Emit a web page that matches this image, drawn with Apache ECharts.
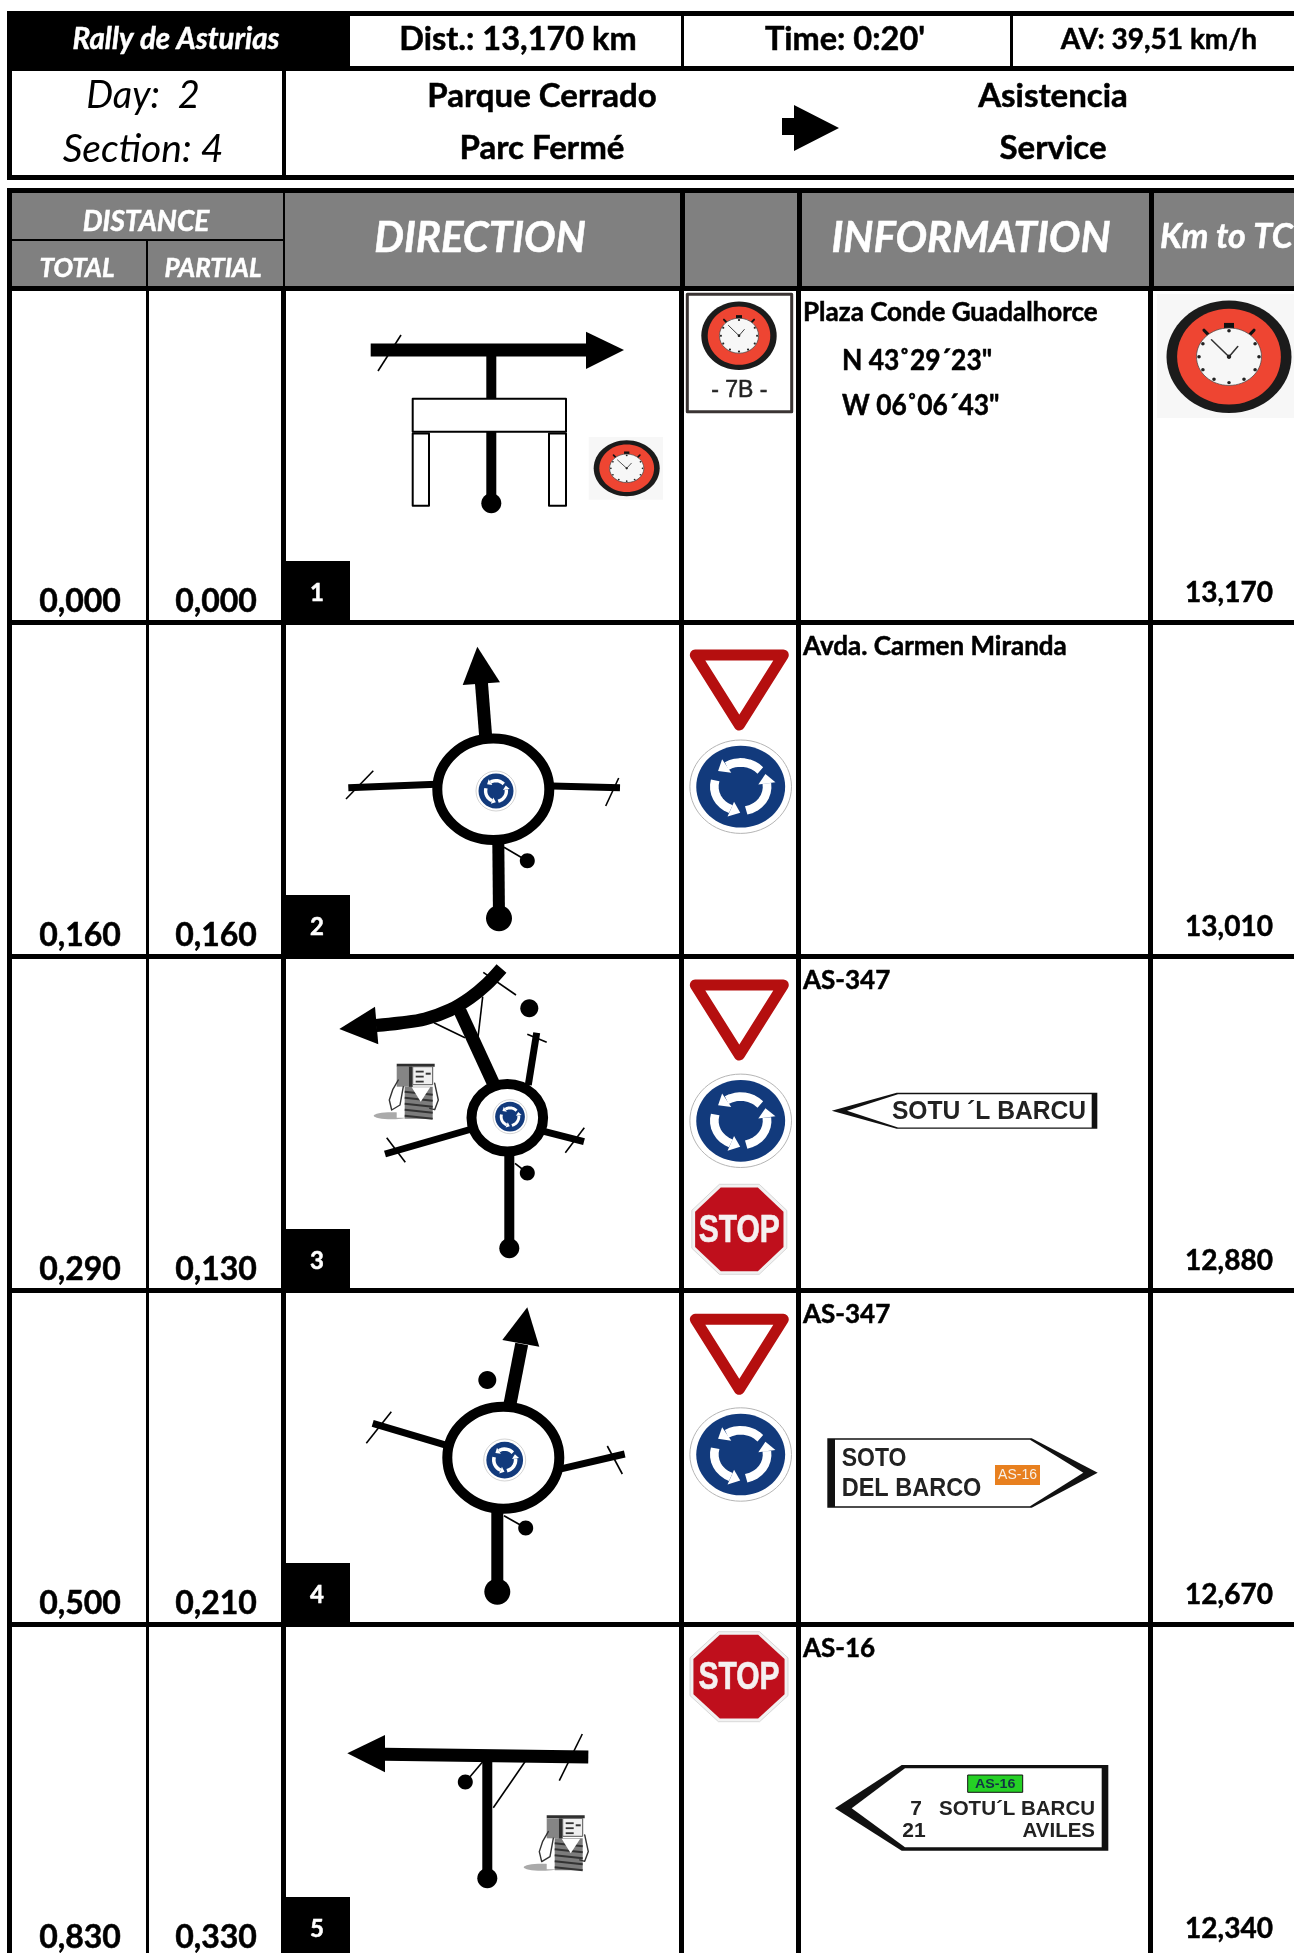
<!DOCTYPE html>
<html>
<head>
<meta charset="utf-8">
<script src="https://cdn.jsdelivr.net/npm/echarts@6/dist/echarts.min.js"></script>
<style>
  html, body { margin: 0; padding: 0; background: #fff; }
  #main { width: 1294px; height: 1953px; }
</style>
</head>
<body>
<div id="main"></div>
<script>
// roadbook rows
const stepNumbers = ['1', '2', '3', '4', '5'];
const totalKm = ['0,000', '0,160', '0,290', '0,500', '0,830'];
const partialKm = ['0,000', '0,160', '0,130', '0,210', '0,330'];
const kmToTc = ['13,170', '13,010', '12,880', '12,670', '12,340'];
const infoTitles = ['Plaza Conde Guadalhorce', 'Avda. Carmen Miranda', 'AS-347', 'AS-347', 'AS-16'];
const coords = ['N 43˚29´23"', 'W 06˚06´43"'];

// header texts
const rallyName = 'Rally de Asturias';
const stageInfo = ['Dist.: 13,170 km', "Time: 0:20'", 'AV: 39,51 km/h'];
const dayInfo = ['Day:  2', 'Section: 4'];
const fromTo = ['Parque Cerrado', 'Parc Fermé', 'Asistencia', 'Service'];

// table geometry, page pixels used as axis units
const rowTops = [291, 625, 959, 1293, 1627];
const rowBottoms = [620, 954, 1288, 1622, 1953];
const columns = [[12, 146], [149, 281], [286, 679], [684, 796], [801, 1148], [1153, 1294]];

const FONT = 'Lato, "Noto Sans", sans-serif';
const SIGN = '"Liberation Sans", Arial, sans-serif';
const marks = [];

function rect(x0, y0, x1, y1, fill) {
  marks.push({ kind: 'poly', pts: [[x0, y0], [x1, y0], [x1, y1], [x0, y1]], fill });
}
function box(x0, y0, x1, y1, stroke, width, fill) {
  marks.push({ kind: 'poly', pts: [[x0, y0], [x1, y0], [x1, y1], [x0, y1]], fill: fill || '#fff', stroke, width });
}
function poly(pts, fill, stroke, width) {
  marks.push({ kind: 'poly', pts, fill, stroke, width });
}
function road(pts, width, cap) {
  marks.push({ kind: 'line', pts, width, color: '#000', cap: cap || 'butt' });
}
function thin(x0, y0, x1, y1) {
  marks.push({ kind: 'line', pts: [[x0, y0], [x1, y1]], width: 1.6, color: '#000', cap: 'butt' });
}
function line(pts, width, color) {
  marks.push({ kind: 'line', pts, width, color, cap: 'round' });
}
function oval(cx, cy, rx, ry, fill, stroke, width) {
  marks.push({ kind: 'oval', c: [cx, cy], rx, ry, fill, stroke, width });
}
function dot(cx, cy, r) {
  oval(cx, cy, r, r, '#000');
}
function text(x, y, str, size, opt) {
  marks.push(Object.assign({ kind: 'text', at: [x, y], str, size, font: FONT, weight: 'bold', italic: false, color: '#000', align: 'center', heavy: 0.5 }, opt));
}

// stopwatch pictogram
function clock(cx, cy, rx, ry) {
  oval(cx, cy, rx, ry, '#1b1b1b');
  oval(cx, cy, rx * 0.83, ry * 0.85, '#ee4532');
  rect(cx - rx * 0.08, cy - ry * 0.6, cx + rx * 0.08, cy - ry * 0.5, '#111');
  line([[cx - rx * 0.4, cy - ry * 0.47], [cx - rx * 0.34, cy - ry * 0.4]], rx * 0.05, '#111');
  line([[cx + rx * 0.4, cy - ry * 0.47], [cx + rx * 0.34, cy - ry * 0.4]], rx * 0.05, '#111');
  oval(cx, cy, rx * 0.52, ry * 0.51, '#f7f7f7', '#444', 0.7);
  [[0, -1], [0.87, -0.5], [1, 0], [0.87, 0.5], [0.5, 0.87], [0, 1], [-0.5, 0.87], [-0.87, 0.5], [-1, 0], [-0.87, -0.5]].forEach(d => {
    oval(cx + d[0] * rx * 0.48, cy + d[1] * ry * 0.46, rx * 0.028, ry * 0.03, '#222');
  });
  line([[cx - rx * 0.28, cy - ry * 0.3], [cx, cy]], rx * 0.025, '#333');
  line([[cx + rx * 0.14, cy - ry * 0.18], [cx, cy]], rx * 0.025, '#333');
  oval(cx, cy, rx * 0.035, ry * 0.04, '#222');
}

// blue roundabout sign
function roundabout(cx, cy, rx, ry) {
  oval(cx, cy, rx, ry, '#fff', '#b5b5b5', rx > 30 ? 1 : 0.6);
  oval(cx, cy, rx * 0.875, ry * 0.875, '#123a7c');
  const arcs = [[78, -8], [-42, -122], [-165, -248]];
  arcs.forEach(a => {
    const pts = [];
    for (let d = a[0]; d >= a[1]; d -= (a[0] - a[1]) / 8) {
      pts.push([cx + Math.cos(d * Math.PI / 180) * rx * 0.52, cy + Math.sin(d * Math.PI / 180) * ry * 0.52]);
    }
    marks.push({ kind: 'line', pts, width: rx * 0.17, color: '#fff', cap: 'butt' });
    const e = a[1] * Math.PI / 180;
    const ex = cx + Math.cos(e) * rx * 0.52, ey = cy + Math.sin(e) * ry * 0.52;
    const tx = Math.sin(e), ty = -Math.cos(e);
    const nx = Math.cos(e), ny = Math.sin(e);
    poly([
      [ex + nx * rx * 0.17, ey + ny * ry * 0.17],
      [ex - nx * rx * 0.17, ey - ny * ry * 0.17],
      [ex + tx * rx * 0.2, ey + ty * ry * 0.2]
    ], '#fff');
  });
}

function yieldSign(cx, top) {
  poly([[cx - 44, top + 6], [cx + 44, top + 6], [cx, top + 76]], '#fff', '#b50f0f', 11);
}

function stopSign(cx, cy, w, h) {
  const a = w / 2, b = h / 2, c = w * 0.21, d = h * 0.21;
  const octagon = (s) => [[-c, -b], [c, -b], [a, -d], [a, d], [c, b], [-c, b], [-a, d], [-a, -d]].map(p => [cx + p[0] * s, cy + p[1] * s]);
  poly(octagon(1), '#f2f2f2', '#cfcfcf', 0.8);
  poly(octagon(0.93), '#bf0f1c');
  text(cx, cy + 2, 'STOP', 30, { font: SIGN, color: '#f5f0f0', scaleY: 1.3 });
}

// petrol pump pictogram
function pump(cx, cy) {
  const p = (x, y) => [cx + x, cy + y];
  oval(cx - 20, cy + 24, 18, 3.5, '#aaaaaa');
  rect(cx - 15, cy - 27, cx + 23, cy + 26, '#fff');
  rect(cx - 15, cy - 28, cx + 23, cy - 25, '#2e2e2e');
  rect(cx - 15, cy - 25, cx - 3, cy - 5, '#858585');
  rect(cx - 3, cy - 25, cx + 1, cy - 3, '#2e2e2e');
  rect(cx + 1, cy - 25, cx + 21, cy - 7, '#efefef');
  box(cx + 1, cy - 25, cx + 21, cy - 7, '#555', 1, '#efefef');
  [-21, -16, -11].forEach(y => {
    rect(cx + 4, cy + y, cx + 12, cy + y + 1.8, '#333');
  });
  rect(cx + 14, cy - 19, cx + 19, cy - 17, '#333');
  rect(cx - 7, cy - 5, cx + 21, cy + 27, '#7c7c7c');
  [-1, 5, 11, 17, 23].forEach(y => {
    marks.push({ kind: 'line', pts: [p(-7, y + 1), p(21, y + 4)], width: 2, color: '#333', cap: 'butt' });
  });
  poly([p(0, -4.5), p(18.5, -4.5), p(9, 10)], '#fff');
  line([p(-13.4, -11.7), p(-19, -2), p(-22.4, 8.3), p(-20, 18.3), p(-11.7, 13.3), p(-8.4, -5)], 1.4, '#333');
  line([p(23, -8.4), p(26.6, 8.3), p(23, 18), p(18, 16.6)], 1.4, '#333');
}

// outer blocks and cell borders
rect(7, 11, 1294, 180, '#000');
rect(350, 16, 681, 66, '#fff');
rect(684, 16, 1010, 66, '#fff');
rect(1013, 16, 1294, 66, '#fff');
rect(12, 71, 282, 175, '#fff');
rect(286, 71, 1294, 175, '#fff');

rect(7, 188, 1294, 1953, '#000');
rect(12, 193, 283, 239, '#808080');
rect(12, 241, 146, 286, '#808080');
rect(148, 241, 283, 286, '#808080');
rect(285, 193, 680, 286, '#808080');
rect(685, 193, 797, 286, '#808080');
rect(802, 193, 1149, 286, '#808080');
rect(1154, 193, 1294, 286, '#808080');

rowTops.forEach((top, r) => {
  columns.forEach(c => rect(c[0], top, c[1], rowBottoms[r], '#fff'));
});

// header texts
text(176, 39, rallyName, 29.5, { italic: true, color: '#fff' });
text(518, 40, stageInfo[0], 32.5);
text(845, 40, stageInfo[1], 32.5);
text(1159, 40, stageInfo[2], 28);
text(143, 96, dayInfo[0], 38, { weight: 'normal', italic: true, heavy: 0 });
text(143, 149, dayInfo[1], 39, { weight: 'normal', italic: true, heavy: 0 });
text(542, 96, fromTo[0], 33);
text(542, 148, fromTo[1], 33);
text(1053, 96, fromTo[2], 33);
text(1053, 148, fromTo[3], 33);
poly([[782, 118], [794, 118], [794, 105], [839, 128], [794, 151], [794, 135], [782, 135]], '#000');

text(146, 222, 'DISTANCE', 28, { italic: true, color: '#fff' });
text(77, 269, 'TOTAL', 26, { italic: true, color: '#fff' });
text(213, 269, 'PARTIAL', 26, { italic: true, color: '#fff' });
text(480, 238, 'DIRECTION', 42, { italic: true, color: '#fff' });
text(971, 238, 'INFORMATION', 42, { italic: true, color: '#fff' });
text(1160, 237, 'Km to TC', 34, { italic: true, color: '#fff', align: 'left' });

// row values drawn from the arrays
stepNumbers.forEach((n, r) => {
  const bottom = rowBottoms[r] > 1900 ? 1958 : rowBottoms[r] + 2;
  rect(281, bottom - 61, 350, Math.min(bottom, 1953), '#000');
  text(317, bottom - 29, n, 24, { color: '#fff' });
  text(80, bottom - 20.5, totalKm[r], 32);
  text(216, bottom - 20.5, partialKm[r], 32);
  text(1229, bottom - 29, kmToTc[r], 28);
  text(803, rowTops[r] + 21.5, infoTitles[r], 26, { align: 'left' });
});
text(842, 360.5, coords[0], 29, { align: 'left', scaleX: 0.91 });
text(842, 406, coords[1], 29, { align: 'left', scaleX: 0.91 });

// row 1
rect(588.7, 437, 663, 499.7, '#f7f7f7');
clock(626.7, 468.3, 33, 28);
rect(1157, 294, 1294, 418, '#f7f7f7');
clock(1229, 356.7, 62.5, 56.3);
box(687.3, 294.3, 791.7, 411.7, '#3a3433', 3);
clock(739, 335.7, 37.7, 34.3);
text(739.3, 391, '- 7B -', 23, { font: SIGN, weight: 'normal', color: '#222' });
road([[370.7, 350], [590, 350]], 13);
poly([[624, 350], [586, 331.7], [586, 369]], '#000');
thin(378, 371, 401, 335);
road([[491.3, 355], [491.3, 399]], 10);
box(412.7, 398.7, 566, 431.7, '#000', 2);
box(412.7, 433.5, 429, 505.7, '#000', 2);
box(549, 433.5, 566, 505.7, '#000', 2);
road([[491.3, 432], [491.3, 502]], 10);
dot(491.3, 503.3, 10);

// row 2
road([[485.7, 737], [481.3, 681]], 13);
poly([[477.3, 646.7], [462.7, 685], [500, 682.3]], '#000');
road([[348.3, 787.7], [436, 784.3]], 7);
thin(346, 799, 373.3, 770.7);
road([[552, 786], [620, 787.7]], 7);
thin(605.7, 806, 618.7, 778);
road([[498.3, 842], [499, 918]], 12);
dot(499, 918.3, 13);
oval(493.3, 789.3, 56, 50.7, '#fff', '#000', 10);
thin(504, 847.3, 527, 860.7);
dot(527.3, 860.7, 7.5);
roundabout(496, 791, 20, 20);
yieldSign(739.3, 649);
roundabout(740.7, 786.7, 50.8, 46.7);

// row 3
marks.push({ kind: 'line', pts: [[501.5, 968.5], [487, 984], [470, 998], [450, 1010], [425, 1019], [400, 1023], [376, 1025.5]], width: 13, color: '#000', cap: 'butt', smooth: 0.4 });
poly([[339.3, 1029], [375, 1006.7], [378.3, 1044.3]], '#000');
road([[460, 1011], [493.3, 1083.3]], 13);
thin(434, 1022.7, 465, 1037.7);
thin(482.7, 996.7, 477.7, 1040);
thin(483.3, 972.3, 516, 995);
dot(529.3, 1008.3, 9);
road([[536.7, 1032.7], [528.3, 1085]], 7);
thin(527.3, 1034.3, 546.7, 1042.3);
road([[385, 1154], [470, 1129.5]], 7);
thin(386.7, 1137.7, 405.3, 1162.3);
road([[543, 1131.2], [584, 1141.7]], 7);
thin(565.3, 1152.7, 584.3, 1127.7);
road([[509.3, 1152], [509.3, 1248]], 10);
dot(509.3, 1248.3, 10);
oval(507.3, 1117.7, 35.8, 33.8, '#fff', '#000', 10);
thin(515, 1163.3, 527.3, 1173);
dot(527.3, 1173, 7.5);
roundabout(510, 1116.7, 17, 17);
pump(411.7, 1091.7);
yieldSign(739.3, 979);
roundabout(740.7, 1120.8, 50.8, 46.7);
stopSign(739.3, 1229.3, 95, 90);

// row 4
road([[510, 1404], [521.7, 1344]], 13);
poly([[527.3, 1307.3], [502.3, 1340], [539.3, 1346.7]], '#000');
road([[372.7, 1423.3], [445, 1444.8]], 7);
thin(366.3, 1443.3, 391.3, 1411.7);
road([[561, 1468.8], [624.7, 1454]], 7);
thin(607.3, 1446, 622.3, 1474);
road([[497.3, 1508], [497.3, 1591]], 12);
dot(497.3, 1591.7, 13);
oval(503.3, 1457.7, 56, 51, '#fff', '#000', 10);
dot(487.3, 1380, 9);
thin(504, 1515.7, 525.7, 1528);
dot(525.7, 1528, 7.5);
roundabout(504.7, 1460, 21, 21);
yieldSign(739.3, 1313.3);
roundabout(740.7, 1454.5, 50.8, 46.7);

// row 5
road([[588.3, 1757], [384, 1754.3]], 13);
poly([[347.3, 1753.3], [385, 1735], [385, 1772.3]], '#000');
road([[487.3, 1756], [487.3, 1878]], 10);
dot(487.3, 1878.3, 10);
dot(465.3, 1782, 7.5);
thin(470, 1776.7, 483.3, 1761);
thin(493.3, 1807.7, 525, 1761.7);
thin(559.3, 1780.7, 582.3, 1734);
pump(561.7, 1843.3);
stopSign(739, 1676.7, 98, 90);

// road name boards
poly([[831.7, 1110.7], [896.7, 1092.7], [1097.3, 1092.7], [1097.3, 1128.7], [896.7, 1128.7]], '#111');
poly([[847, 1110.7], [898, 1094.2], [1091.7, 1094.2], [1091.7, 1127.4], [898, 1127.4]], '#fff');
text(989, 1112, 'SOTU ´L BARCU', 25, { font: SIGN, color: '#222', heavy: 0, scaleX: 0.985 });

poly([[827.3, 1438.3], [1031.7, 1438.3], [1097.7, 1472.7], [1031.7, 1507.7], [827.3, 1507.7]], '#111');
poly([[835, 1439.8], [1030, 1439.8], [1083.3, 1472.7], [1030, 1506.2], [835, 1506.2]], '#fff');
text(841.7, 1459.3, 'SOTO', 25, { font: SIGN, color: '#222', align: 'left', heavy: 0, scaleX: 0.92 });
text(841.7, 1489.5, 'DEL BARCO', 25, { font: SIGN, color: '#222', align: 'left', heavy: 0, scaleX: 0.94 });
rect(995, 1465, 1040, 1485, '#e8801f');
text(1017.5, 1475.5, 'AS-16', 14, { font: SIGN, weight: 'normal', color: '#f7f0e8', heavy: 0 });

poly([[835, 1808.3], [901.7, 1765], [1108.3, 1765], [1108.3, 1850.7], [901.7, 1850.7]], '#111');
poly([[851.7, 1808.3], [905, 1768.3], [1101.7, 1768.3], [1101.7, 1847.3], [905, 1847.3]], '#fff');
box(967.7, 1775, 1022.7, 1792.3, '#111', 1, '#25d025');
text(995.2, 1784, 'AS-16', 13, { font: SIGN, color: '#134', scaleX: 1.1, heavy: 0 });
text(922, 1809, '7', 21, { font: SIGN, color: '#222', align: 'right', heavy: 0 });
text(925.7, 1831, '21', 21, { font: SIGN, color: '#222', align: 'right', heavy: 0 });
text(1095, 1809, 'SOTU´L BARCU', 20.5, { font: SIGN, color: '#222', align: 'right', heavy: 0 });
text(1095, 1831, 'AVILES', 20.5, { font: SIGN, color: '#222', align: 'right', heavy: 0 });

function renderMark(params, api) {
  const m = marks[api.value(0)];
  if (m.kind === 'poly') {
    return {
      type: 'polygon',
      shape: { points: m.pts.map(p => api.coord(p)) },
      style: { fill: m.fill, stroke: m.stroke || null, lineWidth: m.width || 0, lineJoin: 'round' }
    };
  }
  if (m.kind === 'line') {
    return {
      type: 'polyline',
      shape: { points: m.pts.map(p => api.coord(p)), smooth: m.smooth || 0 },
      style: { fill: null, stroke: m.color, lineWidth: m.width, lineCap: m.cap, lineJoin: 'round' }
    };
  }
  if (m.kind === 'oval') {
    const c = api.coord(m.c);
    return {
      type: 'ellipse',
      shape: { cx: c[0], cy: c[1], rx: m.rx, ry: m.ry },
      style: { fill: m.fill, stroke: m.stroke || null, lineWidth: m.width || 0 }
    };
  }
  const at = api.coord(m.at);
  return {
    type: 'text',
    x: at[0],
    y: at[1],
    scaleX: m.scaleX || 1,
    scaleY: m.scaleY || 1,
    style: {
      x: 0,
      y: 0,
      text: m.str,
      fill: m.color,
      stroke: m.heavy ? m.color : null,
      lineWidth: m.heavy,
      font: (m.italic ? 'italic ' : '') + m.weight + ' ' + m.size + 'px ' + m.font,
      textAlign: m.align,
      textVerticalAlign: 'middle'
    }
  };
}

const chart = echarts.init(document.getElementById('main'), null, { renderer: 'canvas' });
chart.setOption({
  animation: false,
  backgroundColor: '#fff',
  grid: { left: 0, right: 0, top: 0, bottom: 0 },
  xAxis: { type: 'value', min: 0, max: 1294, show: false },
  yAxis: { type: 'value', min: 0, max: 1953, inverse: true, show: false },
  series: [{
    type: 'custom',
    silent: true,
    clip: true,
    renderItem: renderMark,
    encode: { x: 0, y: 0 },
    data: marks.map((m, i) => [i])
  }]
});
</script>
</body>
</html>
